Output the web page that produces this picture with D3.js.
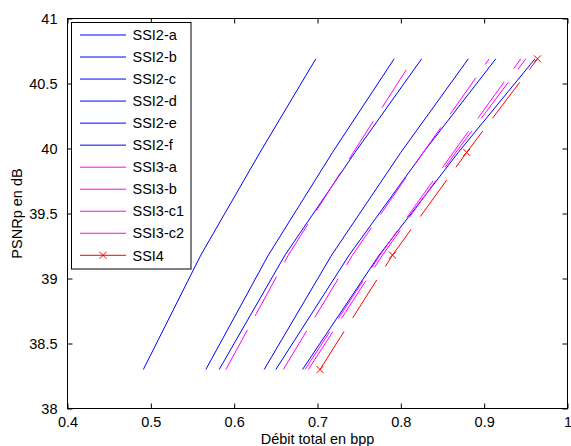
<!DOCTYPE html>
<html><head><meta charset="utf-8">
<script src="https://cdn.jsdelivr.net/npm/d3@7"></script>
<style>body{margin:0;background:#fff;overflow:hidden}svg{display:block}</style>
</head><body><svg id="c" width="571" height="446"></svg>
<script>
// ---- data ----
const psnr = [38.3, 39.18, 39.97, 40.69];
const seriesNames = ["SSI2-a","SSI2-b","SSI2-c","SSI2-d","SSI2-e","SSI2-f","SSI3-a","SSI3-b","SSI3-c1","SSI3-c2","SSI4"];
const ssi2a  = [0.491, 0.560, 0.631, 0.698];
const ssi2b  = [0.566, 0.641, 0.718, 0.792];
const ssi2c  = [0.582, 0.661, 0.745, 0.825];
const ssi2d  = [0.636, 0.717, 0.800, 0.881];
const ssi2e  = [0.650, 0.738, 0.827, 0.914];
const ssi2f  = [0.682, 0.774, 0.869, 0.961];
const ssi3a  = [0.590, 0.665, 0.743, 0.815];
const ssi3b  = [0.659, 0.742, 0.827, 0.906];
const ssi3c1 = [0.685, 0.775, 0.863, 0.944];
const ssi3c2 = [0.689, 0.778, 0.866, 0.950];
const ssi4   = [0.703, 0.790, 0.879, 0.964];
const xTickValues = [0.4,0.5,0.6,0.7,0.8,0.9,1];
const xTickLabels = ["0.4","0.5","0.6","0.7","0.8","0.9","1"];
const yTickValues = [38,38.5,39,39.5,40,40.5,41];
const yTickLabels = ["38","38.5","39","39.5","40","40.5","41"];
const xLabel = "Débit total en bpp";
const yLabel = "PSNRp en dB";

// ---- styles ----
const seriesValues = [ssi2a, ssi2b, ssi2c, ssi2d, ssi2e, ssi2f, ssi3a, ssi3b, ssi3c1, ssi3c2, ssi4];
const styles = [
  {c:"#0000ff", d:null}, {c:"#0000ff", d:null}, {c:"#0000ff", d:null},
  {c:"#0000ff", d:null}, {c:"#0000ff", d:null}, {c:"#0000ff", d:null},
  {c:"#ff00ff", d:"45,16"}, {c:"#ff00ff", d:"45,16"}, {c:"#ff00ff", d:"45,16"}, {c:"#ff00ff", d:"45,16"},
  {c:"#ff0000", d:"45,16", m:true}
];

const FONT = "'Liberation Sans', Arial, Helvetica, sans-serif";
const FS = "14.5px";
const svg = d3.select("#c");
const L = 67.5, R = 567.5, T = 18.5, B = 408.5;
const x = d3.scaleLinear().domain([0.4, 1]).range([L, R]);
const y = d3.scaleLinear().domain([38, 41]).range([B, T]);

svg.append("rect").attr("width",571).attr("height",446).attr("fill","#fff");

// series
const line = d3.line().x(d => x(d[0])).y(d => y(d[1]));
seriesValues.forEach((vals, i) => {
  const pts = vals.map((v, k) => [v, psnr[k]]);
  const st = styles[i];
  const p = svg.append("path").attr("d", line(pts)).attr("fill","none")
    .attr("stroke", st.c).attr("stroke-width", 1);
  if (st.d) p.attr("stroke-dasharray", st.d);
  if (st.m) {
    pts.forEach(q => {
      const cx = x(q[0]), cy = y(q[1]), s = 3.5;
      svg.append("path").attr("d", `M${cx-s},${cy-s}L${cx+s},${cy+s}M${cx-s},${cy+s}L${cx+s},${cy-s}`)
        .attr("stroke", st.c).attr("stroke-width", 1).attr("fill","none");
    });
  }
});

// axes (MATLAB style: ticks inside, box on)
const tl = 5;
const gx = svg.append("g").attr("transform", `translate(0,${B})`)
  .call(d3.axisBottom(x).tickValues(xTickValues).tickFormat((d,i)=>xTickLabels[i]).tickSizeInner(-tl).tickSizeOuter(0).tickPadding(8));
const gy = svg.append("g").attr("transform", `translate(${L},0)`)
  .call(d3.axisLeft(y).tickValues(yTickValues).tickFormat((d,i)=>yTickLabels[i]).tickSizeInner(-tl).tickSizeOuter(0).tickPadding(10));
const gxt = svg.append("g").attr("transform", `translate(0,${T})`)
  .call(d3.axisTop(x).tickValues(xTickValues).tickFormat("").tickSizeInner(-tl).tickSizeOuter(0));
const gyr = svg.append("g").attr("transform", `translate(${R},0)`)
  .call(d3.axisRight(y).tickValues(yTickValues).tickFormat("").tickSizeInner(-tl).tickSizeOuter(0));
[gx, gy, gxt, gyr].forEach(g => {
  g.select(".domain").remove();
  g.selectAll("line").attr("stroke","#000");
  g.selectAll("text").attr("fill","#000").style("font-family", FONT).style("font-size",FS);
});
svg.append("rect").attr("x",L).attr("y",T).attr("width",R-L).attr("height",B-T)
  .attr("fill","none").attr("stroke","#000").attr("stroke-width",1);

// axis labels
svg.append("text").attr("x",(L+R)/2).attr("y",443.5).attr("text-anchor","middle")
  .style("font-family",FONT).style("font-size",FS).text(xLabel);
svg.append("text").attr("transform",`translate(22,${(T+B)/2}) rotate(-90)`).attr("text-anchor","middle")
  .style("font-family",FONT).style("font-size",FS).text(yLabel);

// legend
const lg = svg.append("g");
lg.append("rect").attr("x",71.5).attr("y",22.5).attr("width",119.5).attr("height",246.5)
  .attr("fill","#fff").attr("stroke","#000").attr("stroke-width",1);
seriesNames.forEach((name, i) => {
  const yy = 35 + i * 22.03;
  const st = styles[i];
  lg.append("line").attr("x1",80).attr("x2",126).attr("y1",yy).attr("y2",yy)
    .attr("stroke", st.c).attr("stroke-width",1);
  if (st.m) {
    const s = 3.5, cx = 103;
    lg.append("path").attr("d", `M${cx-s},${yy-s}L${cx+s},${yy+s}M${cx-s},${yy+s}L${cx+s},${yy-s}`)
      .attr("stroke", st.c).attr("stroke-width",1);
  }
  lg.append("text").attr("x",132.5).attr("y",yy).attr("dy","0.36em")
    .style("font-family",FONT).style("font-size",FS).text(name);
});
</script></body></html>
